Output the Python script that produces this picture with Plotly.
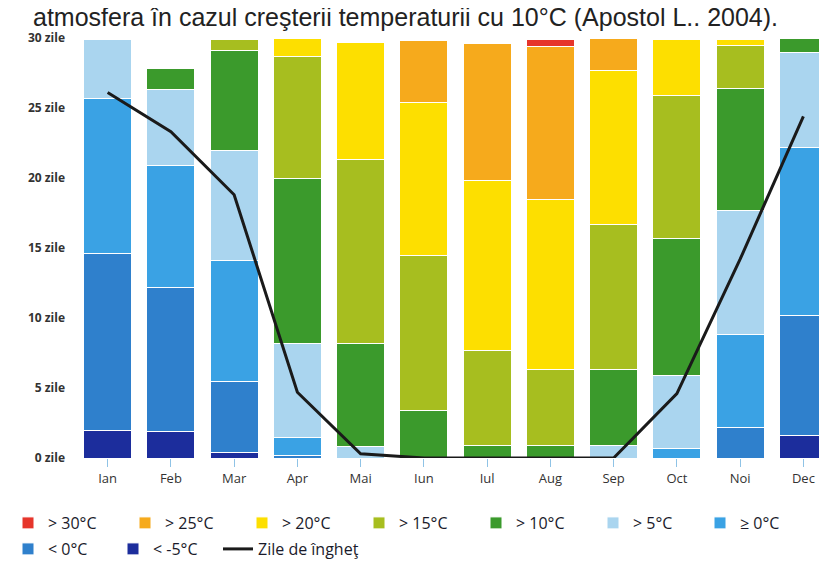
import plotly.graph_objects as go

months = ["Ian", "Feb", "Mar", "Apr", "Mai", "Iun", "Iul", "Aug", "Sep", "Oct", "Noi", "Dec"]

# days per temperature class (stacked bottom -> top)
lt_m5 = [2.0, 1.9, 0.4, 0, 0, 0, 0, 0, 0, 0, 0, 1.6]
lt_0 = [12.6, 10.3, 5.1, 0.2, 0, 0, 0, 0, 0, 0, 2.2, 8.6]
ge_0 = [11.1, 8.7, 8.6, 1.3, 0, 0, 0, 0, 0, 0.7, 6.6, 12.0]
gt_5 = [4.2, 5.4, 7.9, 6.7, 0.8, 0, 0, 0, 0.9, 5.2, 8.9, 6.8]
gt_10 = [0, 1.5, 7.1, 11.8, 7.4, 3.4, 0.9, 0.9, 5.4, 9.8, 8.7, 1.0]
gt_15 = [0, 0, 0.8, 8.7, 13.1, 11.1, 6.8, 5.4, 10.4, 10.2, 3.1, 0]
gt_20 = [0, 0, 0, 1.3, 8.4, 10.9, 12.1, 12.2, 11.0, 4.0, 0.4, 0]
gt_25 = [0, 0, 0, 0, 0, 4.4, 9.8, 10.9, 2.3, 0, 0, 0]
gt_30 = [0, 0, 0, 0, 0, 0, 0, 0.5, 0, 0, 0, 0]

frost_days = [26.1, 23.3, 18.8, 4.7, 0.3, 0, 0, 0, 0, 4.6, 14.2, 24.4]

y_ticks = [0, 5, 10, 15, 20, 25, 30]
y_tick_text = ["0 zile", "5 zile", "10 zile", "15 zile", "20 zile", "25 zile", "30 zile"]

series = [
    ("< -5°C", lt_m5, "#1c2d9c", "legend2", 2),
    ("< 0°C", lt_0, "#2f80cc", "legend2", 1),
    ("≥ 0°C", ge_0, "#3aa2e4", "legend4", 1),
    ("> 5°C", gt_5, "#aad5ef", "legend", 6),
    ("> 10°C", gt_10, "#3b9a2c", "legend", 5),
    ("> 15°C", gt_15, "#a7be1f", "legend", 4),
    ("> 20°C", gt_20, "#fddf00", "legend", 3),
    ("> 25°C", gt_25, "#f6aa1c", "legend", 2),
    ("> 30°C", gt_30, "#e6352b", "legend", 1),
]

fig = go.Figure()
for name, vals, color, leg, rank in series:
    fig.add_trace(go.Bar(
        x=months, y=vals, name=name,
        marker=dict(color=color, line=dict(color="white", width=1)),
        legend=leg, legendrank=rank,
    ))

fig.add_trace(go.Scatter(
    x=months, y=frost_days, name="Zile de îngheţ", mode="lines",
    line=dict(color="#1a1a1a", width=3),
    legend="legend3",
))

leg_font = dict(family="Open Sans", size=16, color="#1a1a2a")
row1_y = (565 - 498) / 565
row2_y = (565 - 524) / 565
fig.update_layout(
    width=827, height=565,
    margin=dict(l=68, r=0, t=30, b=115),
    barmode="stack", bargap=0.24,
    plot_bgcolor="white", paper_bgcolor="white",
    font=dict(family="Open Sans", color="#222"),
    xaxis=dict(
        showgrid=False, showline=False, zeroline=False,
        ticks="outside", ticklen=8, tickcolor="#8fc3e6",
        tickfont=dict(size=13, color="#333"),
    ),
    yaxis=dict(
        range=[0, 30], tickvals=y_ticks, ticktext=y_tick_text,
        showgrid=False, zeroline=False, showline=False,
        tickfont=dict(size=12, color="#333", weight="bold"),
        ticklabelstandoff=10,
    ),
    legend=dict(
        orientation="h", xref="container", yref="container",
        x=0.0, y=row1_y, xanchor="left", yanchor="top",
        entrywidth=72, font=leg_font,
        traceorder="normal", bgcolor="rgba(0,0,0,0)",
    ),
    legend4=dict(
        orientation="h", xref="container", yref="container",
        x=692 / 827, y=row1_y, xanchor="left", yanchor="top",
        font=leg_font, bgcolor="rgba(0,0,0,0)",
    ),
    legend2=dict(
        orientation="h", xref="container", yref="container",
        x=0.0, y=row2_y, xanchor="left", yanchor="top",
        entrywidth=60, font=leg_font,
        traceorder="normal", bgcolor="rgba(0,0,0,0)",
    ),
    legend3=dict(
        orientation="h", xref="container", yref="container",
        x=210 / 827, y=row2_y, xanchor="left", yanchor="top",
        font=leg_font, bgcolor="rgba(0,0,0,0)",
    ),
    annotations=[dict(
        text="atmosfera în cazul creşterii temperaturii cu 10°C (Apostol L.. 2004).",
        xref="paper", yref="paper", x=(772 - 68) / 759, y=1 + 21 / 420,
        xanchor="right", yanchor="middle", showarrow=False,
        font=dict(family="Liberation Sans", size=25, color="#222"),
    )],
)

fig.write_html("out.html")
